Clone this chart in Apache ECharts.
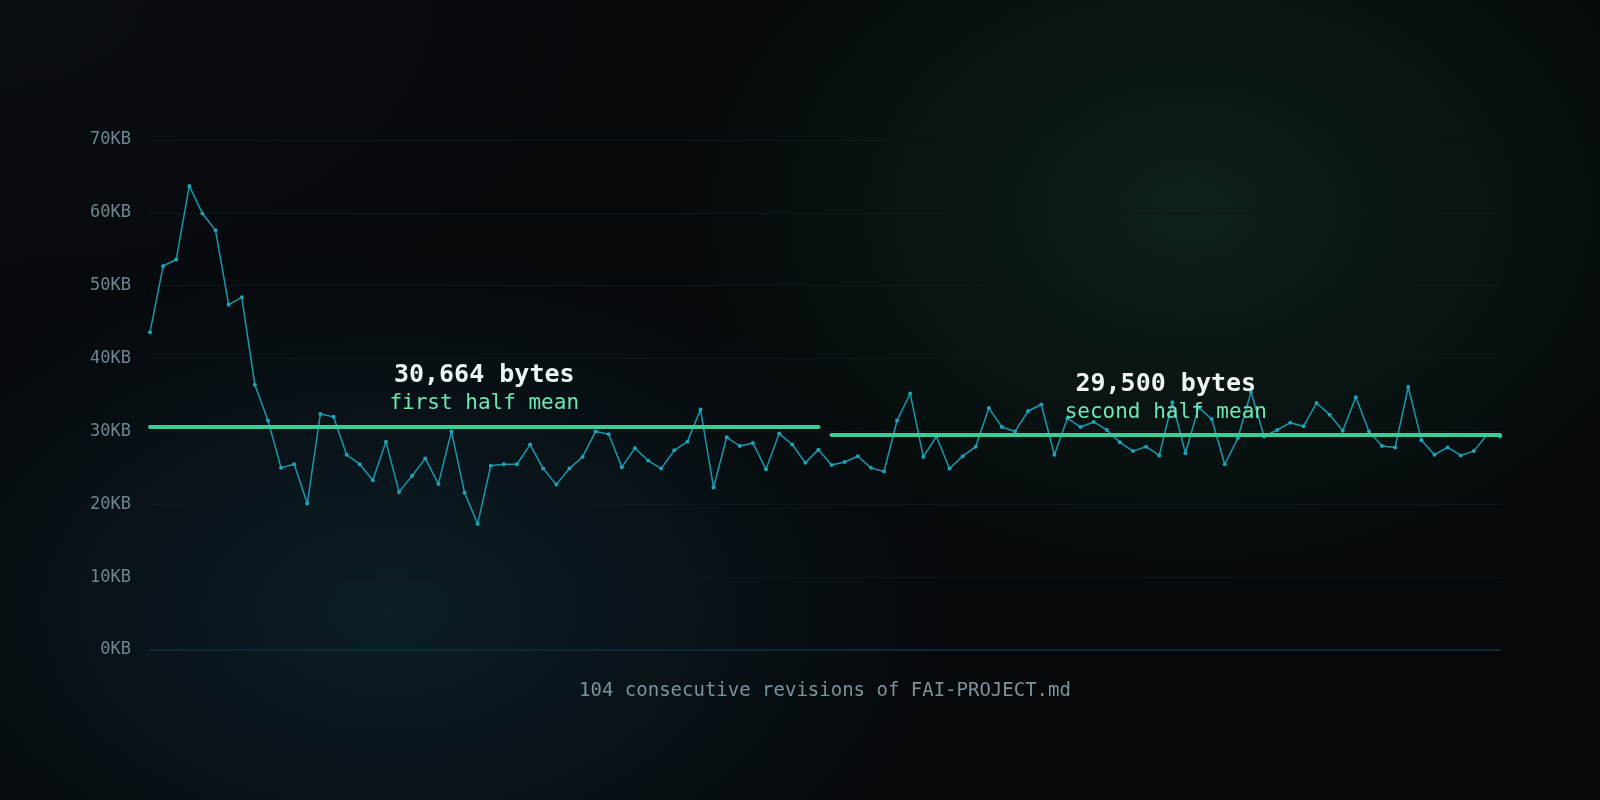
<!DOCTYPE html>
<html>
<head>
<meta charset="utf-8">
<script src="https://cdn.jsdelivr.net/npm/echarts@6/dist/echarts.min.js"></script>
<style>
  html, body { margin: 0; padding: 0; width: 1600px; height: 800px; overflow: hidden; }
  body {
    background-color: #06090c;
    background-image:
      radial-gradient(ellipse 520px 380px at 1190px 210px, rgba(22, 62, 44, 0.45), rgba(22, 62, 44, 0) 100%),
      radial-gradient(ellipse 560px 360px at 390px 610px, rgba(16, 44, 54, 0.60), rgba(16, 44, 54, 0) 100%),
      radial-gradient(ellipse 600px 360px at 0px 0px, rgba(16, 22, 28, 0.45), rgba(16, 22, 28, 0) 100%);
  }
  #chart { width: 1600px; height: 800px; }
</style>
</head>
<body>
<div id="chart"></div>
<script>
// revision sizes in KB (1 KB = 1000 bytes), 104 consecutive revisions
const revisionSizesKB = [
  43.6, 52.7, 53.6, 63.7, 59.9, 57.6, 47.4, 48.4, 36.4, 31.5,
  25.0, 25.5, 20.1, 32.4, 32.0, 26.8, 25.5, 23.3, 28.6, 21.7,
  23.9, 26.3, 22.8, 30.0, 21.6, 17.3, 25.3, 25.5, 25.5, 28.2,
  24.9, 22.7, 24.9, 26.5, 30.0, 29.6, 25.1, 27.7, 26.0, 24.9,
  27.4, 28.6, 33.0, 22.3, 29.2, 28.0, 28.4, 24.8, 29.7, 28.2,
  25.7, 27.5, 25.4, 25.8, 26.6, 25.0, 24.5, 31.5, 35.2, 26.5,
  29.3, 24.9, 26.6, 27.9, 33.2, 30.6, 30.0, 32.8, 33.7, 26.8,
  31.8, 30.6, 31.3, 30.2, 28.5, 27.3, 27.9, 26.7, 34.0, 27.0,
  33.3, 31.7, 25.5, 29.1, 35.4, 29.3, 30.2, 31.2, 30.7, 33.9,
  32.3, 30.1, 34.7, 30.0, 28.0, 27.8, 36.1, 28.8, 26.8, 27.8,
  26.7, 27.3, 29.5, 29.3
];
const firstHalfMeanKB = 30.664;
const secondHalfMeanKB = 29.5;
const firstHalfRange = [0, 51];
const secondHalfRange = [52, 103];
const firstHalfTitle = '30,664 bytes';
const firstHalfSubtitle = 'first half mean';
const secondHalfTitle = '29,500 bytes';
const secondHalfSubtitle = 'second half mean';
const yTicksKB = [0, 10, 20, 30, 40, 50, 60, 70];
const captionText = '104 consecutive revisions of FAI-PROJECT.md';

const MONO = '"DejaVu Sans Mono", "Liberation Mono", monospace';

const points = revisionSizesKB.map((v, i) => [i, v]);

function meanLabel(title, sub) {
  return {
    show: true,
    position: 'middle',
    distance: 10,
    formatter: '{t|' + title + '}\n{s|' + sub + '}',
    rich: {
      t: { fontFamily: MONO, fontSize: 25, fontWeight: 'bold', color: '#eef4f3', lineHeight: 30, align: 'center' },
      s: { fontFamily: MONO, fontSize: 21, color: '#6ee7b7', lineHeight: 26, align: 'center' }
    }
  };
}

const chart = echarts.init(document.getElementById('chart'), null, { renderer: 'canvas' });
chart.setOption({
  backgroundColor: 'transparent',
  animation: false,
  grid: { left: 150, right: 100, top: 140, bottom: 150, containLabel: false },
  xAxis: {
    type: 'value',
    min: 0,
    max: revisionSizesKB.length - 1,
    axisLabel: { show: false },
    axisTick: { show: false },
    splitLine: { show: false },
    axisLine: { show: true, lineStyle: { color: '#0d2a30', width: 2 } },
    name: captionText,
    nameLocation: 'middle',
    nameGap: 32,
    nameTextStyle: { fontFamily: MONO, fontSize: 19, color: '#7d929b' }
  },
  yAxis: {
    type: 'value',
    min: yTicksKB[0],
    max: yTicksKB[yTicksKB.length - 1],
    interval: 10,
    axisLine: { show: false },
    axisTick: { show: false },
    splitLine: { show: true, lineStyle: { color: '#0e181c', width: 1 } },
    axisLabel: {
      margin: 19,
      fontFamily: MONO,
      fontSize: 17,
      color: '#6f868f',
      formatter: v => v + 'KB'
    }
  },
  series: [
    {
      type: 'line',
      data: points,
      symbol: 'circle',
      symbolSize: 4,
      lineStyle: { color: '#1a98ae', width: 1.5 },
      itemStyle: { color: '#1fa3b8' },
      z: 3,
      markLine: {
        silent: true,
        symbol: ['none', 'none'],
        lineStyle: { type: 'solid', color: '#38cf95', width: 4, cap: 'round' },
        emphasis: { disabled: true },
        data: [
          [
            { coord: [firstHalfRange[0], firstHalfMeanKB], label: meanLabel(firstHalfTitle, firstHalfSubtitle) },
            { coord: [firstHalfRange[1], firstHalfMeanKB] }
          ],
          [
            { coord: [secondHalfRange[0], secondHalfMeanKB], label: meanLabel(secondHalfTitle, secondHalfSubtitle) },
            { coord: [secondHalfRange[1], secondHalfMeanKB] }
          ]
        ]
      }
    }
  ]
});
</script>
</body>
</html>
